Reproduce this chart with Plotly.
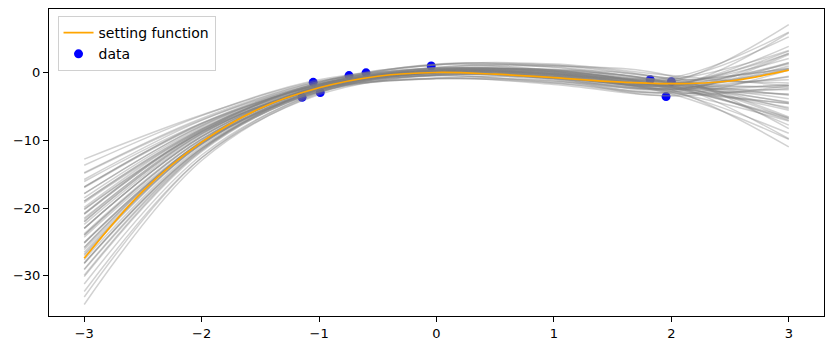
import plotly.graph_objects as go

# x positions where the sampled curves are read
curve_x = [-3, -2, -1, 0, 1, 2, 3]

curves = [
    [-23.0, -9.5, -2.2, 0.1, -0.3, -2.0, -2.0],
    [-19.9, -8.4, -1.8, 0.3, 0.1, -1.5, -3.4],
    [-26.1, -10.6, -2.6, -0.1, -0.7, -2.5, -0.6],
    [-17.9, -7.9, -1.8, 0.2, -0.6, -1.7, 2.7],
    [-28.1, -11.1, -2.6, 0.0, 0.0, -2.3, -6.7],
    [-14.8, -6.8, -1.4, 0.3, 0.4, -1.0, -6.6],
    [-31.2, -12.2, -3.0, -0.1, -1.0, -3.0, 2.6],
    [-12.8, -6.3, -1.3, 0.2, -0.4, -1.2, 0.5],
    [-34.2, -13.0, -3.1, 0.0, -0.2, -2.8, -4.6],
    [-20.8, -8.5, -1.6, 1.1, 0.3, -0.8, 5.9],
    [-25.2, -10.5, -2.8, -0.9, -0.9, -3.2, -9.9],
    [-16.9, -7.5, -1.6, 0.5, -0.7, -1.4, 7.0],
    [-29.1, -11.5, -2.8, -0.3, 0.1, -2.6, -11.0],
    [-19.2, -8.6, -2.5, -1.0, -1.3, -3.0, -7.2],
    [-26.8, -10.4, -2.0, 1.2, 0.7, -1.0, 3.2],
    [-22.0, -9.1, -2.1, 0.3, -0.4, -1.8, 1.2],
    [-24.0, -9.9, -2.3, -0.1, -0.2, -2.2, -5.2],
    [-16.1, -7.5, -2.0, -0.5, -1.4, -2.4, 0.5],
    [-29.9, -11.5, -2.4, 0.7, 0.8, -1.6, -4.5],
    [-20.2, -8.8, -2.4, -0.5, -1.6, -2.8, 2.8],
    [-25.8, -10.2, -2.0, 0.7, 1.0, -1.2, -6.8],
    [-17.0, -7.7, -1.9, -0.3, -0.6, -2.0, -4.4],
    [-29.0, -11.3, -2.5, 0.5, 0.0, -2.0, 0.4],
    [-13.7, -6.4, -1.1, 0.5, 0.9, -0.6, -8.3],
    [-32.3, -12.6, -3.3, -0.4, -1.2, -3.4, 0.3],
    [-21.7, -8.8, -1.5, 1.1, 1.2, -0.5, -2.0],
    [-24.3, -10.3, -2.9, -0.9, -1.8, -3.5, -2.0],
    [-19.0, -8.4, -2.1, -0.2, -0.9, -2.2, -0.7],
    [-27.0, -10.6, -2.3, 0.4, 0.3, -1.8, -3.3],
    [-20.9, -8.7, -1.8, 0.3, 0.4, -1.4, -5.4],
    [-25.1, -10.3, -2.6, -0.1, -1.0, -2.6, 1.4],
    [-15.8, -7.1, -1.4, 0.6, -0.3, -1.1, 5.2],
    [-28.2, -11.3, -2.9, -0.5, -0.4, -2.9, -9.0],
    [-17.9, -7.9, -1.8, 0.1, -0.2, -1.6, -2.3],
    [-33.1, -12.6, -2.9, 0.3, 0.1, -2.4, -3.2],
    [-23.0, -9.5, -2.2, 0.3, -0.5, -1.9, 3.1],
    [-23.0, -9.5, -2.2, -0.1, -0.1, -2.1, -7.1],
    [-20.2, -8.9, -2.5, -0.9, -1.6, -3.1, -2.4],
    [-25.8, -10.1, -1.9, 1.1, 1.0, -0.9, -1.6],
    [-14.9, -7.0, -1.7, 0.0, -0.8, -1.7, 2.0],
    [-30.1, -11.7, -2.7, 0.1, 0.2, -2.3, -6.9],
    [-20.9, -8.7, -1.8, 0.6, 0.1, -1.3, 0.6],
    [-25.1, -10.3, -2.6, -0.4, -0.7, -2.7, -4.6],
    [-16.9, -7.6, -1.7, 0.2, -0.3, -1.5, -1.1],
    [-28.1, -11.2, -2.7, 0.0, -0.5, -2.5, -1.8],
    [-22.0, -9.1, -2.1, 0.0, 0.3, -1.8, -9.8],
    [-24.0, -9.9, -2.3, 0.2, -0.9, -2.2, 5.8],
    [-19.0, -8.3, -2.0, 0.0, -0.8, -2.0, 1.4],
    [-21.5, -9.0, -2.0, 0.4, -0.1, -1.7, -3.9],
    [-26.5, -10.6, -2.4, 0.2, -0.2, -2.1, -5.6],
    [-18.5, -8.1, -1.9, 0.1, -0.6, -1.9, 3.8],
    [-23.8, -9.8, -2.3, -0.3, -0.9, -2.5, 0.9],
    [-22.4, -9.3, -2.1, 0.5, 0.2, -1.6, -7.8],
    [-27.6, -10.9, -2.5, 0.3, -0.3, -2.2, -2.6],
]

# setting function, read at 0.5 steps
func_x = [-3, -2.5, -2, -1.5, -1, -0.5, 0, 0.5, 1, 1.5, 2, 2.5, 3]
func_y = [-27.4, -17.5, -10.3, -5.3, -2.3, -0.6, -0.05, -0.3, -0.8, -1.4, -1.7, -1.3, 0.3]

# observed data points
data_x = [-1.145, -1.05, -0.99, -0.745, -0.6, -0.045, 1.82, 1.955, 2.0]
data_y = [-3.7, -1.5, -3.0, -0.5, -0.1, 0.9, -1.1, -3.6, -1.4]

x_ticks = [-3, -2, -1, 0, 1, 2, 3]
y_ticks = [-30, -20, -10, 0]

fig = go.Figure()

fig.add_trace(go.Scatter(
    x=data_x, y=data_y, mode="markers", name="data",
    marker=dict(color="blue", size=9, line=dict(width=0)),
    legendrank=2,
))

for c in curves:
    fig.add_trace(go.Scatter(
        x=curve_x, y=c, mode="lines", showlegend=False, hoverinfo="skip",
        line=dict(color="rgba(128,128,128,0.36)", width=1.5, shape="spline"),
    ))

fig.add_trace(go.Scatter(
    x=func_x, y=func_y, mode="lines", name="setting function",
    line=dict(color="orange", width=1.7, shape="spline"),
    legendrank=1,
))

axis_common = dict(
    showgrid=False, zeroline=False, showline=True, linecolor="black",
    linewidth=1, mirror=True, ticks="outside", ticklen=5, tickwidth=1,
    tickcolor="black", tickfont=dict(family="DejaVu Sans", size=13, color="black"),
)

fig.update_layout(
    width=834, height=351,
    margin=dict(l=49, r=10, t=9, b=35),
    paper_bgcolor="white", plot_bgcolor="white",
    font=dict(family="DejaVu Sans", size=13, color="black"),
    showlegend=True,
    legend=dict(
        x=0.011, y=0.977, xanchor="left", yanchor="top",
        bgcolor="rgba(255,255,255,0.8)", bordercolor="#d0d0d0", borderwidth=1,
        font=dict(family="DejaVu Sans", size=14, color="black"),
        tracegroupgap=0, itemwidth=30,
    ),
    xaxis=dict(range=[-3.3, 3.3], tickvals=x_ticks, **axis_common),
    yaxis=dict(range=[-35.9, 9.3], tickvals=y_ticks, **axis_common),
)

fig.write_html("out.html")
